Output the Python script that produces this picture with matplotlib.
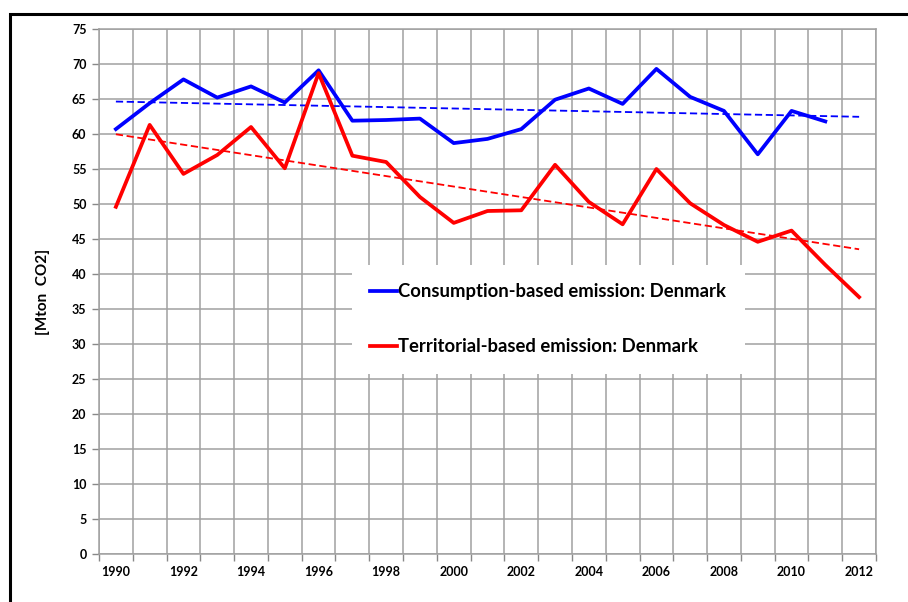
import matplotlib.pyplot as plt
from matplotlib.patches import Rectangle
import numpy as np

''' Data '''
years_cons = np.arange(1990, 2012)
consumption = [60.7, 64.4, 67.8, 65.2, 66.8, 64.5, 69.1, 61.9, 62.0, 62.2,
               58.7, 59.3, 60.7, 64.9, 66.5, 64.3, 69.3, 65.3, 63.3, 57.1,
               63.3, 61.8]
years_terr = np.arange(1990, 2013)
territorial = [49.6, 61.3, 54.3, 57.0, 61.0, 55.1, 68.7, 56.9, 56.0, 51.0,
               47.3, 49.0, 49.1, 55.6, 50.3, 47.1, 55.0, 50.1, 47.0, 44.6,
               46.2, 41.3, 36.7]
label_years = np.arange(1990, 2013, 2)
y_ticks = np.arange(0, 76, 5)

plt.rcParams['font.family'] = ['Lato', 'DejaVu Sans']
plt.rcParams['font.weight'] = 'bold'

fig = plt.figure(figsize=(9.08, 6.02), dpi=100)
ax = fig.add_axes([99 / 908, 48 / 602, 777 / 908, 525 / 602])

# Linien
ax.plot(years_cons, consumption, color='#0000ff', lw=2.7,
        label='Consumption-based emission: Denmark', zorder=4)
ax.plot(years_terr, territorial, color='#ff0000', lw=2.7,
        label='Territorial-based emission: Denmark', zorder=4)

# Trendlinien (lineare Regression, bis 2012)
trend_x = np.array([1990, 2012])
pc = np.polyfit(years_cons, consumption, 1)
pt = np.polyfit(years_terr, territorial, 1)
ax.plot(trend_x, np.polyval(pc, trend_x), color='#0000ff', lw=1.3,
        ls=(0, (4, 2)), zorder=3)
ax.plot(trend_x, np.polyval(pt, trend_x), color='#ff0000', lw=1.3,
        ls=(0, (4, 2)), zorder=3)

# Achsen
ax.set_xlim(1989.5, 2012.5)
ax.set_ylim(0, 75)
ax.set_yticks(y_ticks)
ax.set_xticks(np.arange(1989.5, 2013, 1))
ax.set_xticklabels([])
ax.set_xticks(label_years, minor=True)
ax.set_xticklabels([str(y) for y in label_years], minor=True)
ax.tick_params(axis='x', which='major', length=5, color='#888888', width=1)
ax.tick_params(axis='x', which='minor', length=0, pad=9, labelsize=9)
ax.tick_params(axis='y', length=5, color='#888888', width=1, labelsize=9, pad=4)
ax.grid(True, which='major', color='#a0a0a0', lw=1.1)
ax.set_axisbelow(True)
for s in ax.spines.values():
    s.set_color('#a0a0a0')
    s.set_linewidth(1.1)

ax.set_ylabel('[Mton  CO2]', fontsize=11, fontweight='bold', labelpad=16)

# Legende
leg = ax.legend(loc='upper left', bbox_to_anchor=(253 / 777, (554 - 265) / 525),
                frameon=True, fancybox=False, framealpha=1, edgecolor='white',
                fontsize=13.3, handlelength=1.45, handletextpad=0.05,
                labelspacing=2.05, borderpad=1.0, borderaxespad=0)
leg.get_frame().set_linewidth(0)

# Rahmen
fig.add_artist(Rectangle((10 / 908, -0.1), 1.1, (602 - 14) / 602 + 0.1,
                         transform=fig.transFigure, fill=False,
                         edgecolor='black', lw=2.2))

fig.savefig('out.png', dpi=100)
